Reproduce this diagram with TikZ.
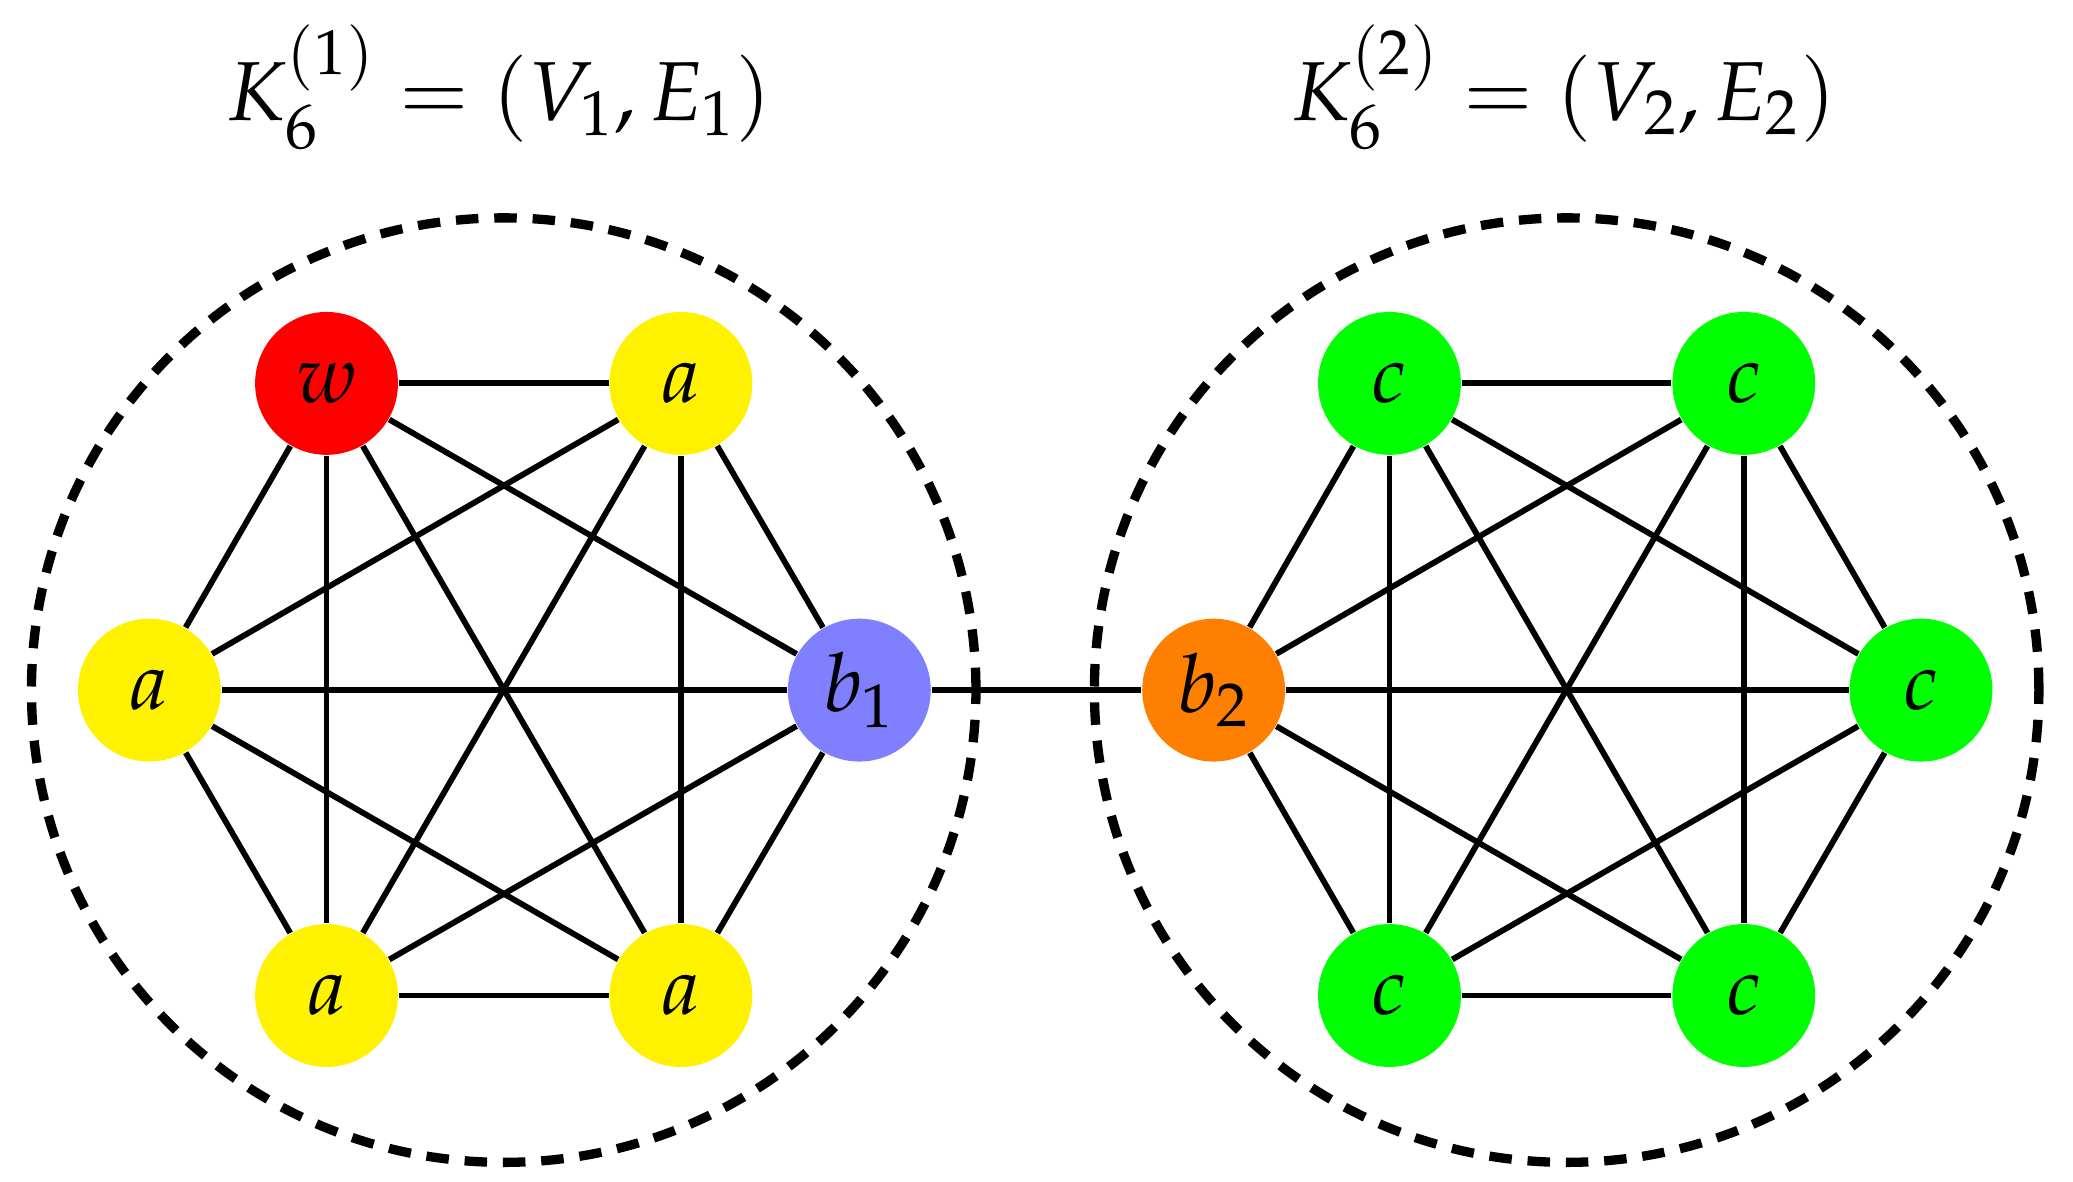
\documentclass[tikz,border=0pt]{standalone}
\usepackage{mathpazo}
\begin{document}
\begin{tikzpicture}[x=0.01cm,y=-0.01cm,
  v/.style={circle,minimum size=1.08cm,inner sep=0pt,font=\fontsize{17.5}{20}\selectfont},
  e/.style={line width=1.25pt},
  grp/.style={circle,draw,line width=2pt,dash pattern=on 0.17cm off 0.12cm,minimum size=7.14cm,inner sep=0pt},
  ttl/.style={font=\fontsize{18}{21}\selectfont}]
\useasboundingbox (0,0) rectangle (1568,894);
\node[grp] (g1) at (381,522) {};
\node[grp] (g2) at (1185,522) {};
\node[ttl] (t1) at (378,66) {$K_6^{(1)}=(V_1,E_1)$};
\node[ttl] (t2) at (1183,66) {$K_6^{(2)}=(V_2,E_2)$};
\node[v,fill=red] (w) at (247,290) {$w$};
\node[v,fill=yellow] (a1) at (515,290) {$a$};
\node[v,fill=blue!50] (b1) at (650,522) {$b_1$};
\node[v,fill=yellow] (a2) at (515,753) {$a$};
\node[v,fill=yellow] (a3) at (247,753) {$a$};
\node[v,fill=yellow] (a4) at (113,522) {$a$};
\node[v,fill=orange] (b2) at (918,522) {$b_2$};
\node[v,fill=green] (c1) at (1051,290) {$c$};
\node[v,fill=green] (c2) at (1319,290) {$c$};
\node[v,fill=green] (c3) at (1453,522) {$c$};
\node[v,fill=green] (c4) at (1319,753) {$c$};
\node[v,fill=green] (c5) at (1051,753) {$c$};
\foreach \p/\q in {w/a1,w/b1,w/a2,w/a3,w/a4,a1/b1,a1/a2,a1/a3,a1/a4,b1/a2,b1/a3,b1/a4,a2/a3,a2/a4,a3/a4,
  b2/c1,b2/c2,b2/c3,b2/c4,b2/c5,c1/c2,c1/c3,c1/c4,c1/c5,c2/c3,c2/c4,c2/c5,c3/c4,c3/c5,c4/c5,b1/b2}
  \draw[e] (\p) -- (\q);
\end{tikzpicture}
\end{document}
